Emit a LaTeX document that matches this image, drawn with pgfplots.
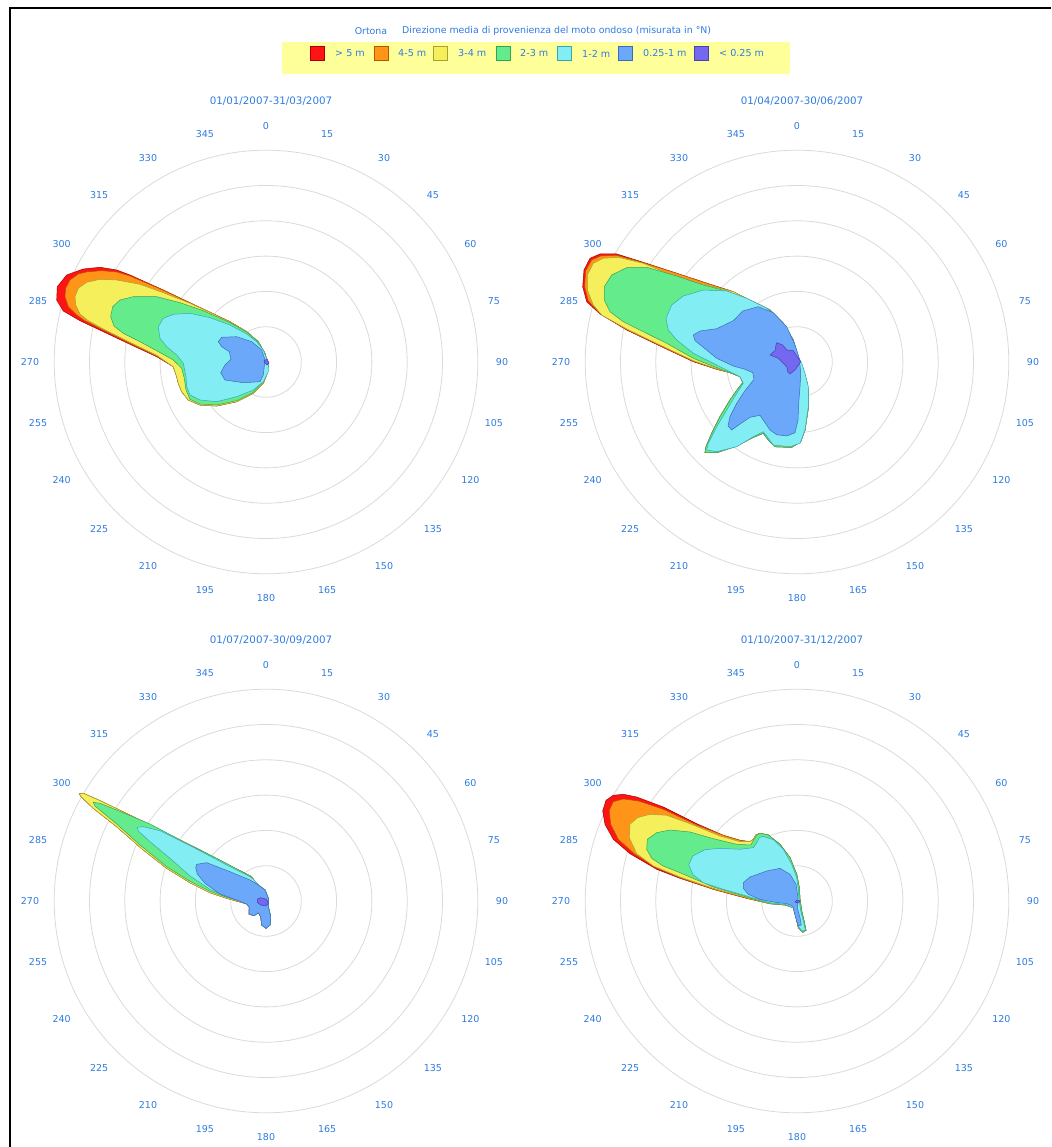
\documentclass[border=0pt]{standalone}
\usepackage{pgfplots}
\pgfplotsset{compat=1.18}
\usepackage{fontspec}
\setmainfont{DejaVu Sans}
\definecolor{cRed}{HTML}{FF1414}\definecolor{dRed}{HTML}{A80000}
\definecolor{cOra}{HTML}{FF9418}\definecolor{dOra}{HTML}{B05800}
\definecolor{cYel}{HTML}{F4EF5A}\definecolor{dYel}{HTML}{A8A030}
\definecolor{cGre}{HTML}{64EC8C}\definecolor{dGre}{HTML}{38A058}
\definecolor{cCya}{HTML}{82EEF4}\definecolor{dCya}{HTML}{38A8B0}
\definecolor{cBlu}{HTML}{6CA8FA}\definecolor{dBlu}{HTML}{3C6CB8}
\definecolor{cPur}{HTML}{7468F0}\definecolor{dPur}{HTML}{4444A8}
\definecolor{tBlue}{HTML}{2F7BE0}
\definecolor{gridc}{HTML}{DADADA}
\definecolor{legbg}{HTML}{FFFF99}
\pgfplotsset{
  rose/.style={hide axis, anchor=center, x=1pt, y=1pt,
    xmin=-240, xmax=240, ymin=-240, ymax=240, clip=false},
  lR/.style={fill=cRed, draw=dRed, line width=0.5pt},
  lO/.style={fill=cOra, draw=dOra, line width=0.5pt},
  lY/.style={fill=cYel, draw=dYel, line width=0.5pt},
  lG/.style={fill=cGre, draw=dGre, line width=0.5pt},
  lC/.style={fill=cCya, draw=dCya, line width=0.5pt},
  lB/.style={fill=cBlu, draw=dBlu, line width=0.5pt},
  lP/.style={fill=cPur, draw=dPur, line width=0.5pt},
}
\newcommand{\rosegrid}[3]{%
  \foreach \k in {1,...,6} {\draw[gridc, line width=0.8pt] (#1,#2) circle ({35.3*\k});}
  \foreach \a in {0,15,...,345} {\node[text=tBlue, font=\fontsize{9.5}{10}\selectfont, inner sep=0pt] at ({#1+236*sin(\a)},{#2-236*cos(\a)}) {\a};}
  \node[text=tBlue, font=\fontsize{10.3}{11}\selectfont, inner sep=0pt] at ({#1+5},{#2-261}) {#3};
}
\begin{document}
\begin{tikzpicture}
\begin{scope}[x=1pt, y=-1pt]
\path[use as bounding box] (0,0) rectangle (1051,1147);
\draw[black, line width=2pt] (9.5,1147) -- (9.5,8.5) -- (1051,8.5);
% header
\node[text=tBlue, font=\fontsize{9.4}{10}\selectfont, inner sep=0pt] at (371,31) {Ortona};
\node[text=tBlue, font=\fontsize{9.4}{10}\selectfont, inner sep=0pt, anchor=west] at (402,31) {Direzione media di provenienza del moto ondoso (misurata in °N)};
\fill[legbg] (282,42) rectangle (790,74);
\foreach \xs/\xt/\c/\d/\t in {310/335/cRed/dRed/{> 5 m},374/398/cOra/dOra/{4-5 m},433/458/cYel/dYel/{3-4 m},496/520/cGre/dGre/{2-3 m},557/582/cCya/dCya/{1-2 m},618/643/cBlu/dBlu/{0.25-1 m},694/719/cPur/dPur/{< 0.25 m}} {
  \draw[fill=\c, draw=\d, line width=0.8pt] (\xs,46.5) rectangle ++(14,14);
  \node[text=tBlue, font=\fontsize{9.6}{10}\selectfont, inner sep=0pt, anchor=west] at (\xt,53.5) {\t};
}
\rosegrid{266}{362}{01/01/2007-31/03/2007}
\rosegrid{797}{362}{01/04/2007-30/06/2007}
\rosegrid{266}{901}{01/07/2007-30/09/2007}
\rosegrid{797}{901}{01/10/2007-31/12/2007}
\end{scope}

% ---------- Top left ----------
\begin{axis}[rose, at={(266pt,-362pt)}]
\addplot[lR] coordinates {(2.3,-3.0) (0.7,-13.0) (-2.7,-21.3) (-12.7,-31.3) (-29.3,-39.7) (-49.3,-44.0) (-66.0,-43.0) (-77.7,-38.0) (-84.3,-29.7) (-87.7,-21.3) (-89.3,-14.7) (-92.7,-4.7) (-109.3,5.3) (-136.0,17.7) (-162.7,30.3) (-186.0,41.3) (-202.7,51.0) (-209.3,62.0) (-208.7,75.3) (-199.3,87.0) (-182.7,93.0) (-166.0,94.7) (-149.3,92.0) (-136.0,87.0) (-102.7,72.0) (-69.3,56.0) (-36.0,40.3) (-19.3,30.3) (-7.7,20.3) (-1.0,8.7)} -- cycle;
\addplot[lO] coordinates {(2.3,-3.0) (0.7,-13.0) (-2.7,-21.3) (-12.7,-31.3) (-29.3,-39.7) (-49.3,-44.0) (-66.0,-43.0) (-77.7,-38.0) (-84.3,-29.7) (-87.7,-21.3) (-89.3,-14.7) (-92.7,-4.7) (-109.3,6.0) (-136.0,18.7) (-162.7,32.0) (-181.0,41.3) (-189.3,47.0) (-197.7,55.3) (-201.0,65.3) (-200.3,73.7) (-196.0,82.0) (-187.7,88.0) (-179.3,90.0) (-164.3,91.3) (-149.3,90.0) (-136.0,86.0) (-102.7,71.7) (-69.3,56.0) (-36.0,40.3) (-19.3,30.3) (-7.7,20.3) (-1.0,8.7)} -- cycle;
\addplot[lY] coordinates {(2.3,-3.0) (0.7,-13.0) (-2.7,-21.3) (-12.7,-31.3) (-29.3,-39.7) (-49.3,-44.0) (-66.0,-43.0) (-77.7,-38.0) (-84.3,-29.7) (-87.7,-21.3) (-89.3,-14.7) (-92.7,-4.7) (-109.3,6.7) (-136.0,19.7) (-162.7,33.0) (-177.7,41.3) (-186.0,48.0) (-190.3,57.0) (-191.0,65.3) (-187.7,73.7) (-179.3,79.7) (-166.0,82.7) (-149.3,82.0) (-126.0,77.7) (-102.7,69.3) (-76.0,58.7) (-52.7,48.0) (-36.0,40.0) (-19.3,30.3) (-7.7,20.3) (-1.0,8.7)} -- cycle;
\addplot[lG] coordinates {(1.3,-3.0) (0,-12.0) (-3.3,-20.7) (-13.3,-30.7) (-29.3,-38.7) (-49.3,-43.0) (-66.0,-42.0) (-76.0,-37.3) (-80.0,-28.0) (-81.7,-16.3) (-84.3,-6.3) (-92.7,2.0) (-109.3,11.3) (-129.3,22.0) (-142.7,28.7) (-152.0,36.0) (-155.3,45.3) (-153.3,55.3) (-146.0,62.0) (-132.7,65.3) (-109.3,65.3) (-86.0,59.3) (-62.7,51.3) (-36.0,39.3) (-19.3,30.0) (-7.7,20.0) (-1.0,8.7)} -- cycle;
\addplot[lC] coordinates {(2.3,-1.3) (2.3,-9.7) (-2.7,-19.7) (-12.7,-28.0) (-29.3,-34.7) (-49.3,-39.7) (-66.0,-38.0) (-76.0,-33.0) (-79.3,-24.7) (-80.0,-14.7) (-82.7,-1.3) (-89.3,7.0) (-99.3,15.3) (-106.0,23.7) (-107.7,35.3) (-102.7,43.7) (-92.7,47.7) (-76.0,48.7) (-56.0,44.3) (-36.0,37.0) (-19.3,28.0) (-9.3,20.3) (-2.7,12.0)} -- cycle;
\addplot[lB] coordinates {(-44.3,24.7) (-29.3,25.3) (-14.3,20.3) (-4.3,12.0) (-1.0,2.0) (-2.7,-13.0) (-6.0,-19.7) (-22.7,-20.7) (-41.0,-18.0) (-45.3,-10.7) (-41.0,-3.0) (-35.0,2.7) (-36.7,10.3) (-44.3,15.3) (-47.7,20.3)} -- cycle;
\addplot[lP] coordinates {(-2,1) (1,3) (3,-1) (1,-3) (-1,-1)} -- cycle;
\end{axis}

% ---------- Top right ----------
\begin{axis}[rose, at={(797pt,-362pt)}]
\addplot[lR] coordinates {(1.3,3.7) (6.3,-8.0) (10.3,-21.3) (11.7,-34.7) (11.0,-48.0) (8.0,-68.0) (3.7,-79.7) (-5.3,-85.3) (-22.0,-84.7) (-28.7,-78.0) (-33.7,-71.3) (-43.7,-75.3) (-60.3,-84.0) (-80.3,-90.7) (-92.0,-90.7) (-91.0,-84.7) (-85.3,-71.3) (-77.0,-54.7) (-67.0,-38.0) (-58.7,-26.3) (-54.3,-20.7) (-57.0,-14.7) (-67.0,-10.7) (-80.3,-7.3) (-103.7,0.3) (-137.0,16.0) (-170.3,32.0) (-197.0,48.0) (-210.3,60.3) (-214.3,75.3) (-213.0,92.0) (-207.0,103.7) (-197.0,108.0) (-180.3,108.0) (-153.7,99.7) (-120.3,88.7) (-87.0,77.7) (-63.7,70.3) (-43.7,60.3) (-27.0,52.0) (-13.7,38.7) (-3.7,22.0)} -- cycle;
\addplot[lO] coordinates {(1.3,3.7) (6.3,-8.0) (10.3,-21.3) (11.7,-34.7) (11.0,-48.0) (8.0,-68.0) (3.7,-79.7) (-5.3,-85.3) (-22.0,-84.7) (-28.7,-78.0) (-33.7,-71.3) (-43.7,-75.3) (-60.3,-84.0) (-80.3,-90.7) (-92.0,-90.7) (-91.0,-84.7) (-85.3,-71.3) (-77.0,-54.7) (-67.0,-38.0) (-58.7,-26.3) (-54.3,-20.7) (-57.0,-14.7) (-67.0,-10.7) (-80.3,-7.3) (-103.7,0.7) (-137.0,16.5) (-170.3,32.5) (-197.0,48.5) (-208.7,61.3) (-212.3,75.3) (-211.3,91.3) (-205.3,102.0) (-196.3,106.0) (-180.3,106.7) (-153.7,99.3) (-120.3,88.7) (-87.0,77.7) (-63.7,70.3) (-43.7,60.3) (-27.0,52.0) (-13.7,38.7) (-3.7,22.0)} -- cycle;
\addplot[lY] coordinates {(1.3,3.7) (6.3,-8.0) (10.3,-21.3) (11.7,-34.7) (11.0,-48.0) (8.0,-68.0) (3.7,-79.7) (-5.3,-85.3) (-22.0,-84.7) (-28.7,-78.0) (-33.7,-71.3) (-43.7,-75.3) (-60.3,-84.0) (-80.3,-90.7) (-92.0,-90.7) (-91.0,-84.7) (-85.3,-71.3) (-77.0,-54.7) (-67.0,-38.0) (-58.7,-26.3) (-54.3,-20.7) (-57.0,-14.7) (-67.0,-10.7) (-80.3,-6.7) (-103.7,1.3) (-137.0,17.0) (-170.3,33.0) (-195.3,47.0) (-203.7,57.0) (-209.7,72.0) (-209.7,87.0) (-203.7,98.7) (-193.7,103.7) (-178.7,104.7) (-153.7,98.7) (-120.3,84.7) (-87.0,76.0) (-63.7,70.3) (-43.7,60.3) (-27.0,52.0) (-13.7,38.7) (-3.7,22.0)} -- cycle;
\addplot[lG] coordinates {(1.3,3.7) (6.3,-8.0) (10.3,-21.3) (11.7,-34.7) (11.0,-48.0) (8.0,-68.0) (3.7,-79.7) (-5.3,-85.3) (-22.0,-84.7) (-28.7,-78.0) (-33.7,-71.3) (-43.7,-75.3) (-60.3,-84.0) (-80.3,-90.7) (-92.0,-90.7) (-91.0,-84.7) (-85.3,-71.3) (-77.0,-54.7) (-67.0,-38.0) (-58.7,-26.3) (-54.3,-20.7) (-57.0,-14.7) (-67.0,-10.7) (-80.3,-5.7) (-103.7,3.7) (-130.3,18.7) (-153.7,30.3) (-173.7,40.3) (-187.0,50.3) (-192.7,62.0) (-192.7,75.3) (-185.3,87.0) (-170.3,94.3) (-150.3,94.7) (-120.3,86.0) (-93.7,77.0) (-70.3,71.0) (-43.7,60.3) (-27.0,52.0) (-13.7,38.7) (-3.7,22.0)} -- cycle;
\addplot[lC] coordinates {(4.7,-1.3) (8.0,-11.3) (11.3,-24.7) (11.3,-44.7) (8.0,-68.0) (3.0,-81.3) (-7.0,-84.7) (-23.7,-83.0) (-28.7,-76.3) (-33.7,-69.7) (-43.7,-74.7) (-60.3,-84.7) (-80.3,-89.7) (-90.3,-88.0) (-88.7,-81.3) (-80.3,-64.7) (-70.3,-48.0) (-60.3,-31.3) (-53.7,-21.3) (-57.0,-14.7) (-67.0,-9.7) (-83.7,-1.3) (-103.7,8.7) (-120.3,22.0) (-128.7,32.0) (-131.0,43.7) (-125.3,57.0) (-113.7,66.0) (-93.7,72.0) (-70.3,71.0) (-50.3,63.7) (-30.3,53.7) (-13.7,38.7) (-3.7,22.0) (1.3,5.3)} -- cycle;
\addplot[lB] coordinates {(2.3,3.7) (3.7,-11.3) (3.0,-24.7) (1.7,-41.3) (1.0,-58.0) (-2.0,-70.7) (-10.3,-74.0) (-20.3,-72.7) (-27.0,-68.0) (-37.0,-53.3) (-47.0,-55.3) (-57.0,-62.0) (-65.3,-68.0) (-69.0,-64.0) (-67.0,-54.7) (-60.3,-41.3) (-52.0,-28.7) (-43.0,-17.3) (-44.3,-10.7) (-52.0,-7.3) (-63.7,-4.0) (-80.3,3.7) (-93.7,14.7) (-102.0,21.3) (-103.7,27.0) (-97.0,31.0) (-80.3,33.3) (-63.7,41.3) (-54.3,51.0) (-38.7,55.3) (-23.7,49.3) (-10.3,35.3) (-2.0,17.0)} -- cycle;
\addplot[lP] coordinates {(-20.3,19.3) (-14.3,17.0) (-10.3,12.0) (-3.7,11.3) (0.3,5.3) (3.7,0.3) (0.3,-4.7) (-2.0,-8.0) (-7.0,-12.0) (-9.3,-9.7) (-10.3,-4.7) (-18.7,3.7) (-27.0,7.0) (-22.0,11.3) (-21.0,17.0)} -- cycle;
\end{axis}

% ---------- Bottom left ----------
\begin{axis}[rose, at={(266pt,-901pt)}]
\addplot[lR] coordinates {(-11.0,19.3) (-14.3,24.3) (-32.7,33.7) (-66.0,51.0) (-99.3,67.7) (-132.7,84.3) (-166.0,100.3) (-182.7,107.7) (-186.7,107.0) (-184.3,103.7) (-172.7,92.7) (-149.3,74.3) (-122.7,51.0) (-99.3,32.7) (-76.0,18.3) (-56.0,8.3) (-39.3,2.7) (-26.0,-1.0) (-19.3,-3.0) (-16.7,-6.3) (-17.0,-13.0) (-12.0,-14.7) (-7.7,-11.7) (-5.3,-15.7) (-4.3,-24.0) (0,-27.3) (4.0,-24.0) (4.7,-15.7) (2.3,-5.7) (2.3,2.7) (-1.0,11.0) (-7.7,16.0)} -- cycle;
\addplot[lO] coordinates {(-11.0,19.3) (-14.3,24.3) (-32.7,33.7) (-66.0,51.0) (-99.3,67.7) (-132.7,84.3) (-166.0,100.3) (-182.7,107.7) (-186.7,107.0) (-184.3,103.7) (-172.7,92.7) (-149.3,74.3) (-122.7,51.0) (-99.3,32.7) (-76.0,18.3) (-56.0,8.3) (-39.3,2.7) (-26.0,-1.0) (-19.3,-3.0) (-16.7,-6.3) (-17.0,-13.0) (-12.0,-14.7) (-7.7,-11.7) (-5.3,-15.7) (-4.3,-24.0) (0,-27.3) (4.0,-24.0) (4.7,-15.7) (2.3,-5.7) (2.3,2.7) (-1.0,11.0) (-7.7,16.0)} -- cycle;
\addplot[lY] coordinates {(-11.0,19.3) (-14.3,24.3) (-32.7,33.7) (-66.0,51.0) (-99.3,67.7) (-132.7,84.3) (-166.0,100.3) (-182.7,107.7) (-186.7,107.0) (-184.3,103.7) (-172.7,92.7) (-149.3,74.3) (-122.7,51.0) (-99.3,32.7) (-76.0,18.3) (-56.0,8.3) (-39.3,2.7) (-26.0,-1.0) (-19.3,-3.0) (-16.7,-6.3) (-17.0,-13.0) (-12.0,-14.7) (-7.7,-11.7) (-5.3,-15.7) (-4.3,-24.0) (0,-27.3) (4.0,-24.0) (4.7,-15.7) (2.3,-5.7) (2.3,2.7) (-1.0,11.0) (-7.7,16.0)} -- cycle;
\addplot[lG] coordinates {(-11.0,19.3) (-16.0,25.0) (-49.3,42.7) (-82.7,59.3) (-116.0,77.0) (-149.3,91.0) (-166.0,97.7) (-172.7,98.7) (-171.0,95.0) (-149.3,77.0) (-126.0,56.0) (-99.3,34.3) (-76.0,19.7) (-56.0,9.7) (-39.3,3.7) (-26.0,-0.3) (-19.3,-3.0) (-16.7,-6.3) (-17.0,-13.0) (-12.0,-14.7) (-7.7,-11.7) (-5.3,-15.7) (-4.3,-24.0) (0,-27.3) (4.0,-24.0) (4.7,-15.7) (2.3,-5.7) (2.3,2.7) (-1.0,11.0) (-7.7,16.0)} -- cycle;
\addplot[lC] coordinates {(-12.7,21.7) (-16.0,24.3) (-39.3,36.0) (-72.7,53.7) (-106.0,70.3) (-122.7,74.3) (-128.7,73.7) (-127.7,70.0) (-116.0,59.3) (-96.0,42.7) (-76.0,25.0) (-56.0,11.7) (-39.3,4.3) (-27.7,0.3) (-19.3,-3.0) (-16.7,-6.3) (-17.0,-13.0) (-12.0,-14.7) (-7.7,-11.7) (-5.3,-15.7) (-4.3,-24.0) (0,-27.3) (4.0,-24.0) (4.7,-15.7) (2.3,-5.7) (2.3,2.7) (-1.0,11.0) (-7.7,16.0)} -- cycle;
\addplot[lB] coordinates {(-69.3,36.7) (-59.3,38.3) (-36.0,29.3) (-16.0,21.0) (-7.7,16.0) (-1.0,11.0) (2.3,2.7) (2.3,-5.7) (4.7,-15.7) (4.0,-24.0) (0,-27.3) (-4.3,-24.0) (-5.3,-15.7) (-7.7,-11.7) (-12.0,-14.7) (-17.0,-13.0) (-16.7,-6.3) (-19.3,-3.0) (-29.3,1.0) (-46.0,7.0) (-61.0,17.7) (-68.7,27.0) (-70.3,33.3)} -- cycle;
\addplot[lP] coordinates {(-8.7,1.7) (-5.3,3.3) (0.7,1.7) (2.3,-2.3) (0,-5.0) (-5.3,-4.0) (-8.7,-1.3)} -- cycle;
\end{axis}

% ---------- Bottom right ----------
\begin{axis}[rose, at={(797pt,-901pt)}]
\addplot[lR] coordinates {(-37.0,67.7) (-28.7,66.0) (-17.0,56.7) (-7.0,43.3) (-0.3,26.7) (2.3,13.3) (3.0,1.7) (4.7,-10.0) (7.0,-20.0) (9.0,-29.3) (5.7,-31.3) (1.3,-26.7) (-1.0,-16.7) (-3.7,-6.7) (-12.0,-4.0) (-27.0,-2.7) (-50.3,2.7) (-83.7,11.7) (-117.0,22.7) (-140.3,31.7) (-167.0,47.3) (-183.7,61.7) (-192.0,76.7) (-194.3,90.0) (-191.0,100.7) (-183.7,105.7) (-173.7,106.7) (-160.3,104.0) (-133.7,94.0) (-100.3,77.3) (-73.7,65.7) (-57.0,60.7) (-47.0,59.3) (-43.7,61.7) (-41.3,66.0)} -- cycle;
\addplot[lO] coordinates {(-37.0,67.7) (-28.7,66.0) (-17.0,56.7) (-7.0,43.3) (-0.3,26.7) (2.3,13.3) (3.0,1.7) (4.7,-10.0) (7.0,-20.0) (9.0,-29.3) (5.7,-31.3) (1.3,-26.7) (-1.0,-16.7) (-3.7,-6.7) (-12.0,-4.0) (-27.0,-2.7) (-50.3,2.7) (-83.7,11.7) (-117.0,23.3) (-140.3,33.3) (-162.0,46.7) (-178.7,61.7) (-186.3,76.7) (-187.7,90.7) (-183.7,99.3) (-173.7,102.0) (-158.7,100.0) (-133.7,91.7) (-100.3,76.0) (-73.7,65.7) (-57.0,60.7) (-47.0,59.3) (-43.7,61.7) (-41.3,66.0)} -- cycle;
\addplot[lY] coordinates {(-37.0,67.7) (-28.7,66.0) (-17.0,56.7) (-7.0,43.3) (-0.3,26.7) (2.3,13.3) (3.0,1.7) (4.7,-10.0) (7.0,-20.0) (9.0,-29.3) (5.7,-31.3) (1.3,-26.7) (-1.0,-16.7) (-3.7,-6.7) (-12.0,-4.0) (-27.0,-2.7) (-50.3,3.3) (-83.7,12.7) (-117.0,24.0) (-143.7,35.0) (-160.3,47.3) (-167.7,63.3) (-167.0,76.7) (-159.7,83.3) (-147.0,86.7) (-130.3,85.7) (-107.0,77.3) (-77.0,65.0) (-57.0,59.3) (-47.0,59.3) (-43.7,61.7) (-41.3,66.0)} -- cycle;
\addplot[lG] coordinates {(-37.0,67.7) (-28.7,66.0) (-17.0,56.7) (-7.0,43.3) (-0.3,26.7) (2.3,13.3) (3.0,1.7) (4.7,-10.0) (7.0,-20.0) (9.0,-29.3) (5.7,-31.3) (1.3,-26.7) (-1.0,-16.7) (-3.7,-6.7) (-12.0,-4.0) (-27.0,-2.7) (-50.3,4.0) (-83.7,14.0) (-117.0,28.3) (-133.7,35.0) (-145.3,42.7) (-150.3,51.7) (-149.7,61.7) (-140.3,68.3) (-127.0,71.0) (-107.0,69.0) (-83.7,62.3) (-60.3,56.7) (-46.3,56.0) (-43.0,61.7) (-40.3,65.7)} -- cycle;
\addplot[lC] coordinates {(-34.3,64.7) (-23.7,61.3) (-13.7,51.7) (-5.3,36.7) (-0.3,23.3) (1.3,11.7) (2.0,1.7) (3.7,-10.0) (6.3,-20.0) (8.3,-28.7) (5.7,-30.3) (1.7,-26.0) (-1.0,-16.7) (-3.7,-6.7) (-12.0,-3.3) (-27.0,-1.7) (-50.3,5.0) (-73.7,11.7) (-93.7,18.3) (-103.7,26.0) (-108.3,36.0) (-104.3,45.0) (-92.0,51.3) (-77.0,52.7) (-57.0,51.7) (-43.7,53.3) (-39.7,59.3) (-37.7,63.3)} -- cycle;
\addplot[lB] coordinates {(-53.7,18.3) (-47.0,24.0) (-30.3,30.0) (-17.0,32.7) (-7.0,26.7) (-1.0,16.7) (1.0,3.3) (0.3,-6.7) (3.0,-16.7) (4.3,-24.0) (1.3,-25.0) (-2.0,-14.0) (-4.3,-5.0) (-10.3,-2.7) (-23.7,-1.0) (-37.0,1.7) (-48.7,6.7) (-53.7,12.7)} -- cycle;
\addplot[lP] coordinates {(0,1) (3,0) (1,-2) (-2,-1)} -- cycle;
\end{axis}
\end{tikzpicture}
\end{document}
